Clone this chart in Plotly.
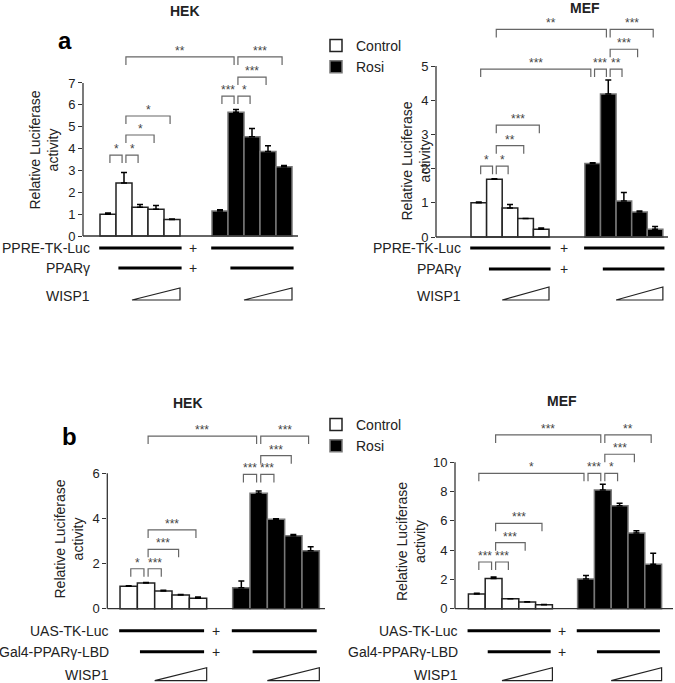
import numpy as np
import plotly.graph_objects as go

W, H = 675, 683
FONT = "Arial, Liberation Sans, sans-serif"

# ---- data ----
groups = ["Control", "Rosi"]
cells = ["HEK", "MEF", "HEK", "MEF"]

hek_a_ctrl = [1.0, 2.42, 1.31, 1.22, 0.76]
hek_a_ctrl_err = [0.05, 0.49, 0.13, 0.17, 0.02]
hek_a_rosi = [1.14, 5.66, 4.54, 3.86, 3.17]
hek_a_rosi_err = [0.06, 0.13, 0.38, 0.27, 0.05]

mef_a_ctrl = [1.0, 1.69, 0.85, 0.54, 0.23]
mef_a_ctrl_err = [0.02, 0.01, 0.1, 0.0, 0.03]
mef_a_rosi = [2.15, 4.18, 1.05, 0.73, 0.23]
mef_a_rosi_err = [0.02, 0.41, 0.25, 0.03, 0.08]

hek_b_ctrl = [1.0, 1.14, 0.78, 0.61, 0.46]
hek_b_ctrl_err = [0.02, 0.02, 0.04, 0.02, 0.06]
hek_b_rosi = [0.93, 5.11, 3.96, 3.23, 2.57]
hek_b_rosi_err = [0.3, 0.1, 0.02, 0.06, 0.18]

mef_b_ctrl = [1.0, 2.07, 0.68, 0.46, 0.27]
mef_b_ctrl_err = [0.05, 0.1, 0.0, 0.02, 0.02]
mef_b_rosi = [2.03, 8.11, 7.04, 5.17, 3.03]
mef_b_rosi_err = [0.23, 0.39, 0.16, 0.16, 0.75]

# significance brackets: (bar from, bar to, label, height); bars 0-4 Control, 5-9 Rosi
hek_a_sig = [(0, 1, "*", 3.7), (1, 2, "*", 3.7), (1, 3, "*", 4.62), (1, 4, "*", 5.49),
             (1, 6, "**", 8.19), (6, 9, "***", 8.19), (6, 8, "***", 7.27),
             (5, 6, "***", 6.4), (6, 7, "*", 6.4)]
mef_a_sig = [(0, 1, "*", 2.07), (1, 2, "*", 2.07), (1, 3, "**", 2.67), (1, 4, "***", 3.27),
             (0, 5, "***", 4.91), (5, 6, "***", 4.91), (6, 7, "**", 4.91),
             (6, 8, "***", 5.49), (1, 6, "**", 6.07), (6, 9, "***", 6.07)]
hek_b_sig = [(0, 1, "*", 1.77), (1, 2, "***", 1.77), (1, 3, "***", 2.63), (1, 4, "***", 3.49),
             (5, 6, "***", 5.95), (6, 7, "***", 5.95), (6, 8, "***", 6.78),
             (1, 6, "***", 7.65), (6, 9, "***", 7.65)]
mef_b_sig = [(0, 1, "***", 3.19), (1, 2, "***", 3.19), (1, 3, "***", 4.51), (1, 4, "***", 5.83),
             (0, 5, "*", 9.25), (5, 6, "***", 9.25), (6, 7, "*", 9.25),
             (6, 8, "***", 10.55), (1, 6, "***", 11.87), (6, 9, "**", 11.87)]

rows_a = ["PPRE-TK-Luc", "PPARγ", "WISP1"]
rows_b = ["UAS-TK-Luc", "Gal4-PPARγ-LBD", "WISP1"]

# ---- panel placement (pixels) ----
panels = [
    dict(ctrl=hek_a_ctrl, ce=hek_a_ctrl_err, rosi=hek_a_rosi, re=hek_a_rosi_err, sig=hek_a_sig,
         rows=rows_a, ymax=7, dtick=1, c0=108, u=16, gap=7, left=83, right=298,
         y0=236, yu=21.86, top=30, bottom=305, r1=12, r2=32, w=(52, 64), wl=60, rend=4.6,
         title=(185, 11), ytitle=(43.5, 150)),
    dict(ctrl=mef_a_ctrl, ce=mef_a_ctrl_err, rosi=mef_a_rosi, re=mef_a_rosi_err, sig=mef_a_sig,
         rows=rows_a, ymax=5, dtick=1, c0=478.8, u=15.6, gap=7.3, left=436, right=668,
         y0=237, yu=34.2, top=15, bottom=305, r1=11, r2=32, w=(50, 63), wl=59, rend=4.6,
         title=(585, 8), ytitle=(415.5, 161)),
    dict(ctrl=hek_b_ctrl, ce=hek_b_ctrl_err, rosi=hek_b_rosi, re=hek_b_rosi_err, sig=hek_b_sig,
         rows=rows_b, ymax=6, dtick=2, c0=128.7, u=17.33, gap=6.5, left=107.3, right=325,
         y0=608.7, yu=22.57, top=415, bottom=683, r1=22, r2=43, w=(59, 72), wl=66, rend=4.35,
         title=(187.5, 403), ytitle=(68.5, 539)),
    dict(ctrl=mef_b_ctrl, ce=mef_b_ctrl_err, rosi=mef_b_rosi, re=mef_b_rosi_err, sig=mef_b_sig,
         rows=rows_b, ymax=10, dtick=2, c0=476.8, u=16.8, gap=6.5, left=455, right=673,
         y0=608.7, yu=14.64, top=405, bottom=683, r1=22, r2=43, w=(59, 72), wl=66, rend=4.4,
         title=(562, 401), ytitle=(411, 542)),
]

fig = go.Figure()
shapes = []
annos = []

for k, p in enumerate(panels):
    sfx = "" if k == 0 else str(k + 1)
    xa, ya = "x" + sfx, "y" + sfx
    xr = [(p["left"] - p["c0"]) / p["u"], (p["right"] - p["c0"]) / p["u"]]
    yr = [(p["y0"] - p["bottom"]) / p["yu"], (p["y0"] - p["top"]) / p["yu"]]
    dy = lambda px, p=p: -px / p["yu"]  # pixels below baseline -> data units
    xc = np.arange(5)
    xr_pos = np.arange(5) + p["gap"]
    pos = list(xc) + list(xr_pos)
    legend = "legend" if k < 2 else "legend2"

    fig.add_trace(go.Bar(x=xc, y=p["ctrl"], width=1, name=groups[0], xaxis=xa, yaxis=ya,
                         marker=dict(color="white", line=dict(color="#222", width=1.5)),
                         error_y=dict(type="data", array=p["ce"], arrayminus=[0] * 5, symmetric=False,
                                      color="black", thickness=1.5, width=3),
                         showlegend=(k % 2 == 0), legend=legend))
    fig.add_trace(go.Bar(x=xr_pos, y=p["rosi"], width=1, name=groups[1], xaxis=xa, yaxis=ya,
                         marker=dict(color="black", line=dict(color="#777", width=1.5)),
                         error_y=dict(type="data", array=p["re"], arrayminus=[0] * 5, symmetric=False,
                                      color="black", thickness=1.5, width=3),
                         showlegend=(k % 2 == 0), legend=legend))

    fig.layout["xaxis" + sfx] = dict(domain=[p["left"] / W, p["right"] / W], range=xr,
                                     visible=False, anchor=ya)
    fig.layout["yaxis" + sfx] = dict(domain=[1 - p["bottom"] / H, 1 - p["top"] / H], range=yr,
                                     anchor=xa, showgrid=False, zeroline=False, showline=False,
                                     tickvals=list(range(0, p["ymax"] + 1, p["dtick"])),
                                     ticks="outside", ticklen=4, tickcolor="#333", tickwidth=1.3,
                                     tickfont=dict(size=13, color="#222"))

    # axis lines
    shapes.append(dict(type="line", xref=xa, yref=ya, x0=xr[0], x1=xr[1], y0=0, y1=0,
                       line=dict(color="#333", width=1.3)))
    shapes.append(dict(type="line", xref="paper", yref="paper", x0=p["left"] / W, x1=p["left"] / W,
                       y0=1 - p["y0"] / H, y1=1 - (p["y0"] - p["ymax"] * p["yu"]) / H,
                       line=dict(color="#333", width=1.3)))

    # significance brackets
    leg = 8 / p["yu"]
    for a, b, lab, h in p["sig"]:
        x0, x1 = pos[a] + 0.12, pos[b] - 0.12
        shapes.append(dict(type="path", xref=xa, yref=ya, line=dict(color="#666", width=1.2),
                           path=f"M{x0},{h - leg} L{x0},{h} L{x1},{h} L{x1},{h - leg}"))
        annos.append(dict(x=(x0 + x1) / 2, y=h, xref=xa, yref=ya, text=lab, showarrow=False,
                          xanchor="center", yanchor="bottom", yshift=-3,
                          font=dict(size=12, color="#444")))

    # construct rows below axis
    y1, y2 = dy(p["r1"]), dy(p["r2"])
    wb, wt = dy(p["w"][1]), dy(p["w"][0])
    e = p["rend"]
    for s in (0, p["gap"]):
        shapes.append(dict(type="line", xref=xa, yref=ya, x0=s - 0.55, x1=s + e, y0=y1, y1=y1,
                           line=dict(color="black", width=3)))
        shapes.append(dict(type="line", xref=xa, yref=ya, x0=s + 0.65, x1=s + e, y0=y2, y1=y2,
                           line=dict(color="black", width=3)))
        shapes.append(dict(type="path", xref=xa, yref=ya, fillcolor="white",
                           line=dict(color="#222", width=1.2),
                           path=f"M{s + 1.5},{wb} L{s + 4.5},{wb} L{s + 4.5},{wt} Z"))
    xp = (4 + p["gap"]) / 2 - 0.2
    for yy in (y1, y2):
        annos.append(dict(x=xp, y=yy, xref=xa, yref=ya, text="+", showarrow=False,
                          xanchor="center", yanchor="middle", font=dict(size=14, color="#222")))
    for txt, yy in zip(p["rows"], (y1, y2, dy(p["wl"]))):
        annos.append(dict(x=-1.0, y=yy, xref=xa, yref=ya, text=txt, showarrow=False,
                          xanchor="right", yanchor="middle", font=dict(size=14, color="#222")))

    # titles
    tx, ty = p["title"]
    annos.append(dict(x=tx / W, y=1 - ty / H, xref="paper", yref="paper", text="<b>%s</b>" % cells[k],
                      xanchor="center", yanchor="middle", showarrow=False,
                      font=dict(size=14, color="#222")))
    yx, yy = p["ytitle"]
    annos.append(dict(x=yx / W, y=1 - yy / H, xref="paper", yref="paper",
                      text="Relative Luciferase<br>activity", textangle=-90, showarrow=False,
                      xanchor="center", yanchor="middle", font=dict(size=14, color="#222")))

annos.append(dict(x=65 / W, y=1 - 40 / H, xref="paper", yref="paper", text="<b>a</b>",
                  xanchor="center", yanchor="middle", showarrow=False,
                  font=dict(size=24, color="black")))
annos.append(dict(x=69 / W, y=1 - 436 / H, xref="paper", yref="paper", text="<b>b</b>",
                  xanchor="center", yanchor="middle", showarrow=False,
                  font=dict(size=24, color="black")))

fig.update_layout(
    width=W, height=H, margin=dict(l=0, r=0, t=0, b=0),
    paper_bgcolor="white", plot_bgcolor="white",
    font=dict(family=FONT, size=14, color="#222"),
    barmode="overlay",
    shapes=shapes, annotations=annos,
    legend=dict(x=316 / W, y=1 - 30 / H, xanchor="left", yanchor="top", font=dict(size=14),
                bgcolor="rgba(0,0,0,0)", tracegroupgap=0, itemwidth=30),
    legend2=dict(x=316 / W, y=1 - 409 / H, xanchor="left", yanchor="top", font=dict(size=14),
                 bgcolor="rgba(0,0,0,0)", tracegroupgap=0, itemwidth=30),
)

fig.write_html("out.html", config={"displayModeBar": False},
               post_script="document.body.style.margin = '0';")
